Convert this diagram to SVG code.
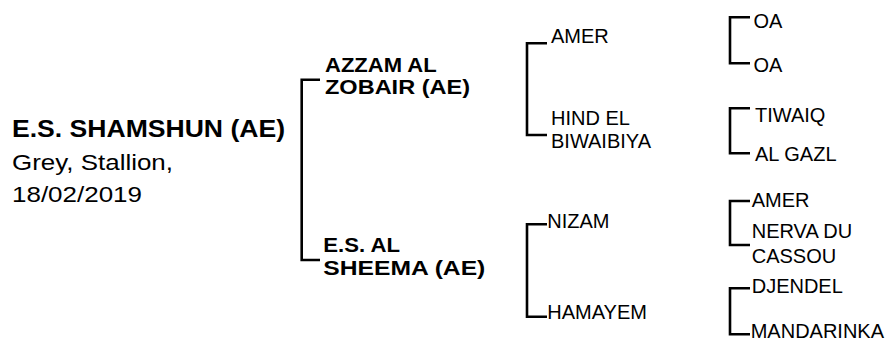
<svg xmlns="http://www.w3.org/2000/svg" width="894" height="339" viewBox="0 0 894 339">
<style>
text{font-family:"Liberation Sans",Arial,sans-serif;fill:#000}
.h{font-weight:bold;font-size:24px}
.b{font-weight:bold;font-size:21px}
.m{font-size:22px}
.r{font-size:20px}
.c{fill:none;stroke:#000;stroke-width:2.6}
</style>
<rect width="894" height="339" fill="#fff"/>
<g id="connectors">
<path class="c" d="M320,79.7H301.7V260H320"/>
<path class="c" d="M547,43.3H527V135H547"/>
<path class="c" d="M547,224.3H527V316.7H547"/>
<path class="c" d="M750,17.3H730V63.3H750"/>
<path class="c" d="M750,108.3H730V153.3H750"/>
<path class="c" d="M750,201H730V245H750"/>
<path class="c" d="M750,288.3H730V334.3H750"/>
</g>
<g id="subject">
<text class="h" x="12" y="136.7" textLength="273" lengthAdjust="spacingAndGlyphs">E.S. SHAMSHUN (AE)</text>
<text class="m" x="12" y="170" textLength="161" lengthAdjust="spacingAndGlyphs">Grey, Stallion,</text>
<text class="m" x="12" y="201.7" textLength="130" lengthAdjust="spacingAndGlyphs">18/02/2019</text>
</g>
<g id="sire">
<text class="b" x="325" y="72.3" textLength="111.7" lengthAdjust="spacingAndGlyphs">AZZAM AL</text>
<text class="b" x="325" y="94.3" textLength="145" lengthAdjust="spacingAndGlyphs">ZOBAIR (AE)</text>
</g>
<g id="dam">
<text class="b" x="323.3" y="251.7" textLength="76.7" lengthAdjust="spacingAndGlyphs">E.S. AL</text>
<text class="b" x="323.3" y="275" textLength="162" lengthAdjust="spacingAndGlyphs">SHEEMA (AE)</text>
</g>
<g id="ss"><text class="r" x="551" y="43.3">AMER</text></g>
<g id="sd"><text class="r" x="551" y="125">HIND EL</text><text class="r" x="551" y="148">BIWAIBIYA</text></g>
<g id="ds"><text class="r" x="547.3" y="228.3">NIZAM</text></g>
<g id="dd"><text class="r" x="547.3" y="319.3">HAMAYEM</text></g>
<g id="sss"><text class="r" x="753.5" y="27.5">OA</text></g>
<g id="ssd"><text class="r" x="753.5" y="71.5">OA</text></g>
<g id="sds"><text class="r" x="755" y="121.7">TIWAIQ</text></g>
<g id="sdd"><text class="r" x="755" y="160.7">AL GAZL</text></g>
<g id="dss"><text class="r" x="751.7" y="206.7">AMER</text></g>
<g id="dsd"><text class="r" x="751.7" y="238.3">NERVA DU</text><text class="r" x="751.7" y="263.3">CASSOU</text></g>
<g id="dds"><text class="r" x="751.7" y="293.3">DJENDEL</text></g>
<g id="ddd"><text class="r" x="750.7" y="338">MANDARINKA</text></g>
</svg>
